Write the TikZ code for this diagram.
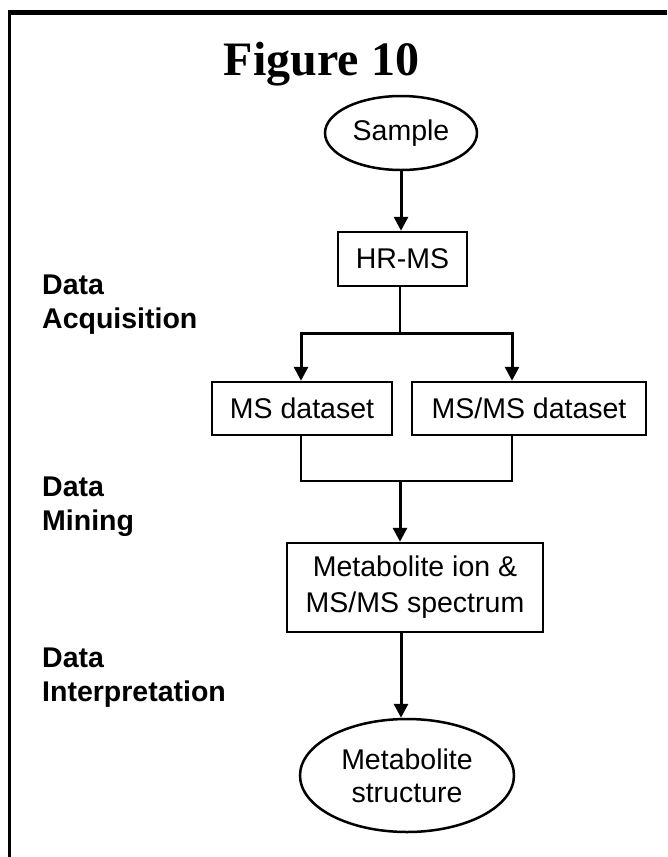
\documentclass[tikz,border=0pt]{standalone}
\usepackage{fontspec}
\setmainfont{Liberation Serif}
\setsansfont{Liberation Sans}
\usetikzlibrary{arrows.meta,shapes.geometric}
\begin{document}
\begin{tikzpicture}[x=1pt,y=-1pt,
  txt/.style={font=\sffamily\fontsize{28.5}{36}\selectfont,align=center},
  box/.style={txt,draw,line width=2.5pt,rectangle,inner sep=0pt},
  oval/.style={txt,draw,line width=2.5pt,ellipse,inner sep=0pt},
  arr/.style={line width=3pt,-{Triangle[length=14pt,width=14pt]}},
  ln/.style={line width=2.5pt},
  lab/.style={font=\sffamily\bfseries\fontsize{28.5}{34}\selectfont,align=left,anchor=north west,inner sep=0pt}]
\useasboundingbox (0,0) rectangle (667,857);
% frame
\draw[line width=5pt] (8,12.5) -- (667,12.5);
\draw[line width=3pt] (9.5,10) -- (9.5,857);
% title
\node[font=\rmfamily\bfseries\fontsize{48}{56}\selectfont,anchor=base] (title) at (321.5,75) {Figure 10};
% side labels
\node[lab] (acq) at (42,275) {Data\\Acquisition};
\node[lab] (min) at (42,477) {Data\\Mining};
\node[lab] (int) at (42,648) {Data\\Interpretation};
% nodes
\node[oval,minimum width=152pt,minimum height=74pt] (sample) at (401,133) {Sample};
\node[box,minimum width=129pt,minimum height=54pt] (hrms) at (402.5,259) {HR-MS};
\node[box,minimum width=180pt,minimum height=53pt] (msd) at (302,408.5) {MS dataset};
\node[box,minimum width=234pt,minimum height=53pt] (msms) at (529,408.5) {MS/MS dataset};
\node[box,minimum width=256pt,minimum height=89pt] (meta) at (415,587.5) {Metabolite ion \&\\MS/MS spectrum};
\node[oval,font=\sffamily\fontsize{28.5}{33}\selectfont,minimum width=214pt,minimum height=113pt] (struct) at (407,775.5) {Metabolite\\structure};
% connectors
\coordinate (split) at (400,333);
\coordinate (merge) at (400,481);
\draw[arr] (sample.south) -- (sample.south |- hrms.north);
\draw[ln] (hrms.south -| split) -- (split);
\draw[arr] (split) -| ([xshift=-1pt]msd.north);
\draw[arr] (split) -| ([xshift=-17pt]msms.north);
\draw[ln] ([xshift=-1pt]msd.south) |- (merge) -| ([xshift=-17pt]msms.south);
\draw[arr] (merge) -- (merge |- meta.north);
\draw[arr] ([xshift=-14pt]meta.south) -- ([xshift=-6pt]struct.north);
\end{tikzpicture}
\end{document}
